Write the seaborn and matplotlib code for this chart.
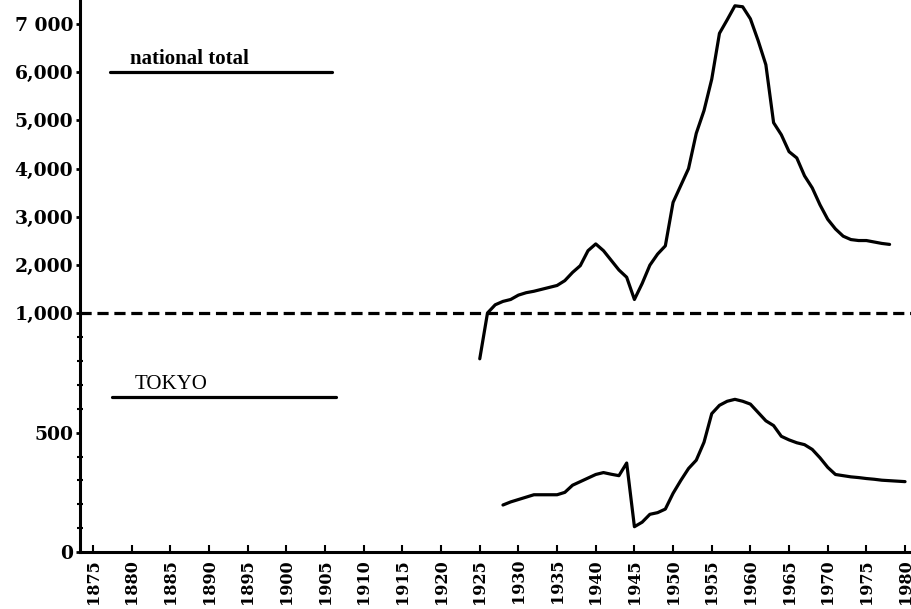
import numpy as np
import pandas as pd
import matplotlib
matplotlib.use('Agg')
from matplotlib import pyplot as plt
import seaborn as sns

# national total (upper, compressed part of the axis above 1,000)
nat_years = list(range(1925, 1979))
nat_values = [810, 1010, 1180, 1250, 1290, 1380, 1430, 1460, 1500, 1540,
              1580, 1680, 1850, 1990, 2300, 2440, 2300, 2100, 1900, 1750,
              1290, 1620, 2000, 2230, 2400, 3300, 3650, 4000, 4730, 5200,
              5850, 6800, 7080, 7370, 7350, 7100, 6650, 6150, 4950, 4700,
              4350, 4220, 3850, 3600, 3250, 2950, 2750, 2600, 2530, 2510,
              2510, 2480, 2450, 2430]

# Tokyo (lower part of the axis)
tok_years = list(range(1928, 1981))
tok_values = [197, 210, 220, 230, 240, 240, 240, 240, 250, 280,
              295, 310, 325, 333, 326, 320, 373, 106, 125, 158,
              165, 180, 246, 300, 350, 385, 460, 580, 615, 632,
              640, 632, 620, 585, 550, 530, 485, 470, 458, 450,
              430, 395, 355, 325, 320, 315, 312, 308, 305, 301,
              299, 297, 295]

ytick_vals = [0, 500, 1000, 2000, 3000, 4000, 5000, 6000, 7000]
ytick_labels = ['0', '500', '1,000', '2,000', '3,000', '4,000', '5,000', '6,000', '7 000']
xtick_vals = list(range(1875, 1981, 5))

df = pd.concat([
    pd.DataFrame({'year': nat_years, 'value': nat_values, 'series': 'national total'}),
    pd.DataFrame({'year': tok_years, 'value': tok_values, 'series': 'TOKYO'}),
])

sns.set_style('ticks')
plt.rcParams['font.family'] = ['DejaVu Serif']
plt.rcParams['text.color'] = 'black'
plt.rcParams['xtick.color'] = 'black'
plt.rcParams['ytick.color'] = 'black'
plt.rcParams['axes.edgecolor'] = 'black'

# piecewise linear axis: 0-1000 full scale, above 1000 compressed
K = 0.2025
def fwd(v):
    v = np.asarray(v, dtype=float)
    return np.where(v <= 1000, v, 1000 + (v - 1000) * K)
def inv(u):
    u = np.asarray(u, dtype=float)
    return np.where(u <= 1000, u, 1000 + (u - 1000) / K)

fig = plt.figure(figsize=(9.12, 6.09), dpi=100)
ax = fig.add_axes([80 / 912, 57 / 609, 832 / 912, 552 / 609])
ax.set_yscale('function', functions=(fwd, inv))

for name, sub in df.groupby('series', sort=False):
    sns.lineplot(data=sub, x='year', y='value', color='black', lw=2.3, ax=ax,
                 legend=False)

ax.axhline(1000, color='black', lw=2.3, ls=(0, (3.5, 1.8)))

ax.set_xlim(1873.3, 1980.9)
ax.set_ylim(0, 7490)
ax.set_xticks(xtick_vals)
ax.set_xticklabels([str(y) for y in xtick_vals], rotation=90, fontweight='bold',
                   fontsize=11.5)
ax.set_yticks(ytick_vals)
ax.set_yticklabels(ytick_labels, fontweight='bold', fontsize=13.5)
ax.set_yticks([100, 200, 300, 400, 600, 700, 800, 900], minor=True)
ax.tick_params(axis='y', which='major', direction='out', length=3, width=2, pad=2)
ax.tick_params(axis='y', which='minor', direction='inout', length=5, width=1.5)
ax.tick_params(axis='x', which='major', direction='in', length=5, width=1.5, pad=5)
ax.set_xlabel('')
ax.set_ylabel('')

for side in ['top', 'right']:
    ax.spines[side].set_visible(False)
for side in ['left', 'bottom']:
    ax.spines[side].set_linewidth(2.2)

# line keys with names
ax.plot([0.036, 0.303], [0.87, 0.87], color='black', lw=2.3, transform=ax.transAxes)
ax.text(0.06, 0.884, 'national total', transform=ax.transAxes, fontsize=15,
        fontweight='bold', family='Liberation Serif', color='black')
ax.plot([0.038, 0.308], [0.281, 0.281], color='black', lw=2.3, transform=ax.transAxes)
ax.text(0.066, 0.296, 'TOKYO', transform=ax.transAxes, fontsize=15,
        family='Liberation Serif', color='black')

fig.savefig('out.png', dpi=100)
plt.close('all')
